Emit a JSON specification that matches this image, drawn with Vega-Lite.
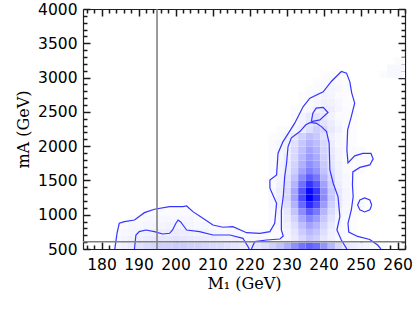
{
  "$schema": "https://vega.github.io/schema/vega-lite/v6.json",
  "width": 322,
  "height": 240,
  "autosize": {"type": "none"},
  "padding": {"left": 83, "top": 9, "right": 11, "bottom": 63},
  "background": "white",
  "config": {"view": {"stroke": null}, "axis": {"grid": false, "zindex": 1, "labelFont": "DejaVu Sans", "labelFontSize": 15.5, "labelColor": "#000000", "domainColor": "#222222", "domainWidth": 1.2, "tickColor": "#1a1a1a", "tickWidth": 1.5, "titleFont": "DejaVu Serif", "titleFontSize": 16, "titleFontWeight": "normal", "titleColor": "#000000", "labelOverlap": false, "labelFlush": false}},
  "datasets": {
    "cells": [
      {"m1":183,"mA":500,"v":4},{"m1":185,"mA":500,"v":6},{"m1":187,"mA":500,"v":8},{"m1":189,"mA":500,"v":12},{"m1":191,"mA":500,"v":14},{"m1":193,"mA":500,"v":16},{"m1":195,"mA":500,"v":18},{"m1":197,"mA":500,"v":18},{"m1":199,"mA":500,"v":20},{"m1":201,"mA":500,"v":20},{"m1":203,"mA":500,"v":18},{"m1":205,"mA":500,"v":18},{"m1":207,"mA":500,"v":16},{"m1":209,"mA":500,"v":15},{"m1":211,"mA":500,"v":14},{"m1":213,"mA":500,"v":12},{"m1":215,"mA":500,"v":10},{"m1":217,"mA":500,"v":8},{"m1":219,"mA":500,"v":8},{"m1":221,"mA":500,"v":10},{"m1":223,"mA":500,"v":13},{"m1":225,"mA":500,"v":18},{"m1":227,"mA":500,"v":24},{"m1":229,"mA":500,"v":32},{"m1":231,"mA":500,"v":44},{"m1":233,"mA":500,"v":55},{"m1":235,"mA":500,"v":62},{"m1":237,"mA":500,"v":56},{"m1":239,"mA":500,"v":42},{"m1":241,"mA":500,"v":28},{"m1":243,"mA":500,"v":16},{"m1":245,"mA":500,"v":10},{"m1":247,"mA":500,"v":7},{"m1":249,"mA":500,"v":5},{"m1":251,"mA":500,"v":4},{"m1":253,"mA":500,"v":3},{"m1":255,"mA":500,"v":2},
      {"m1":183,"mA":600,"v":3},{"m1":185,"mA":600,"v":4},{"m1":187,"mA":600,"v":5},{"m1":189,"mA":600,"v":7},{"m1":191,"mA":600,"v":8},{"m1":193,"mA":600,"v":9},{"m1":195,"mA":600,"v":10},{"m1":197,"mA":600,"v":10},{"m1":199,"mA":600,"v":11},{"m1":201,"mA":600,"v":10},{"m1":203,"mA":600,"v":9},{"m1":205,"mA":600,"v":8},{"m1":207,"mA":600,"v":8},{"m1":209,"mA":600,"v":7},{"m1":211,"mA":600,"v":6},{"m1":213,"mA":600,"v":5},{"m1":215,"mA":600,"v":5},{"m1":217,"mA":600,"v":4},{"m1":219,"mA":600,"v":3},{"m1":221,"mA":600,"v":3},{"m1":223,"mA":600,"v":3},{"m1":225,"mA":600,"v":2},{"m1":227,"mA":600,"v":2},{"m1":229,"mA":600,"v":4},{"m1":231,"mA":600,"v":8},{"m1":233,"mA":600,"v":15},{"m1":235,"mA":600,"v":22},{"m1":237,"mA":600,"v":18},{"m1":239,"mA":600,"v":10},{"m1":241,"mA":600,"v":5},{"m1":243,"mA":600,"v":2},{"m1":245,"mA":600,"v":2},{"m1":247,"mA":600,"v":2},
      {"m1":183,"mA":700,"v":2},{"m1":185,"mA":700,"v":3},{"m1":187,"mA":700,"v":4},{"m1":189,"mA":700,"v":5},{"m1":191,"mA":700,"v":6},{"m1":193,"mA":700,"v":6},{"m1":195,"mA":700,"v":7},{"m1":197,"mA":700,"v":7},{"m1":199,"mA":700,"v":8},{"m1":201,"mA":700,"v":7},{"m1":203,"mA":700,"v":6},{"m1":205,"mA":700,"v":5},{"m1":207,"mA":700,"v":5},{"m1":209,"mA":700,"v":4},{"m1":211,"mA":700,"v":3},{"m1":213,"mA":700,"v":3},{"m1":215,"mA":700,"v":3},{"m1":217,"mA":700,"v":2},{"m1":219,"mA":700,"v":2},{"m1":221,"mA":700,"v":2},{"m1":223,"mA":700,"v":2},{"m1":225,"mA":700,"v":2},{"m1":227,"mA":700,"v":2},{"m1":229,"mA":700,"v":4},{"m1":231,"mA":700,"v":10},{"m1":233,"mA":700,"v":20},{"m1":235,"mA":700,"v":28},{"m1":237,"mA":700,"v":23},{"m1":239,"mA":700,"v":13},{"m1":241,"mA":700,"v":6},{"m1":243,"mA":700,"v":3},{"m1":245,"mA":700,"v":2},{"m1":247,"mA":700,"v":1},
      {"m1":185,"mA":800,"v":2},{"m1":187,"mA":800,"v":3},{"m1":189,"mA":800,"v":3},{"m1":191,"mA":800,"v":4},{"m1":193,"mA":800,"v":4},{"m1":195,"mA":800,"v":4},{"m1":197,"mA":800,"v":5},{"m1":199,"mA":800,"v":5},{"m1":201,"mA":800,"v":5},{"m1":203,"mA":800,"v":4},{"m1":205,"mA":800,"v":3},{"m1":207,"mA":800,"v":3},{"m1":209,"mA":800,"v":2},{"m1":211,"mA":800,"v":2},{"m1":213,"mA":800,"v":2},{"m1":225,"mA":800,"v":2},{"m1":227,"mA":800,"v":3},{"m1":229,"mA":800,"v":6},{"m1":231,"mA":800,"v":13},{"m1":233,"mA":800,"v":25},{"m1":235,"mA":800,"v":36},{"m1":237,"mA":800,"v":30},{"m1":239,"mA":800,"v":17},{"m1":241,"mA":800,"v":8},{"m1":243,"mA":800,"v":3},{"m1":245,"mA":800,"v":2},{"m1":247,"mA":800,"v":1},
      {"m1":187,"mA":900,"v":2},{"m1":189,"mA":900,"v":2},{"m1":191,"mA":900,"v":3},{"m1":193,"mA":900,"v":3},{"m1":195,"mA":900,"v":3},{"m1":197,"mA":900,"v":3},{"m1":199,"mA":900,"v":3},{"m1":201,"mA":900,"v":3},{"m1":203,"mA":900,"v":3},{"m1":205,"mA":900,"v":2},{"m1":225,"mA":900,"v":2},{"m1":227,"mA":900,"v":3},{"m1":229,"mA":900,"v":8},{"m1":231,"mA":900,"v":17},{"m1":233,"mA":900,"v":34},{"m1":235,"mA":900,"v":48},{"m1":237,"mA":900,"v":39},{"m1":239,"mA":900,"v":22},{"m1":241,"mA":900,"v":11},{"m1":243,"mA":900,"v":4},{"m1":245,"mA":900,"v":2},{"m1":247,"mA":900,"v":1},
      {"m1":191,"mA":1000,"v":2},{"m1":193,"mA":1000,"v":2},{"m1":195,"mA":1000,"v":2},{"m1":197,"mA":1000,"v":2},{"m1":199,"mA":1000,"v":2},{"m1":201,"mA":1000,"v":2},{"m1":203,"mA":1000,"v":2},{"m1":225,"mA":1000,"v":2},{"m1":227,"mA":1000,"v":4},{"m1":229,"mA":1000,"v":10},{"m1":231,"mA":1000,"v":23},{"m1":233,"mA":1000,"v":45},{"m1":235,"mA":1000,"v":64},{"m1":237,"mA":1000,"v":52},{"m1":239,"mA":1000,"v":29},{"m1":241,"mA":1000,"v":14},{"m1":243,"mA":1000,"v":6},{"m1":245,"mA":1000,"v":3},{"m1":247,"mA":1000,"v":1},
      {"m1":225,"mA":1100,"v":3},{"m1":227,"mA":1100,"v":6},{"m1":229,"mA":1100,"v":13},{"m1":231,"mA":1100,"v":30},{"m1":233,"mA":1100,"v":59},{"m1":235,"mA":1100,"v":84},{"m1":237,"mA":1100,"v":69},{"m1":239,"mA":1100,"v":39},{"m1":241,"mA":1100,"v":18},{"m1":243,"mA":1100,"v":8},{"m1":245,"mA":1100,"v":3},{"m1":247,"mA":1100,"v":2},{"m1":249,"mA":1100,"v":3},
      {"m1":225,"mA":1200,"v":3},{"m1":227,"mA":1200,"v":7},{"m1":229,"mA":1200,"v":16},{"m1":231,"mA":1200,"v":36},{"m1":233,"mA":1200,"v":70},{"m1":235,"mA":1200,"v":100},{"m1":237,"mA":1200,"v":82},{"m1":239,"mA":1200,"v":46},{"m1":241,"mA":1200,"v":22},{"m1":243,"mA":1200,"v":9},{"m1":245,"mA":1200,"v":4},{"m1":247,"mA":1200,"v":2},
      {"m1":225,"mA":1300,"v":3},{"m1":227,"mA":1300,"v":7},{"m1":229,"mA":1300,"v":15},{"m1":231,"mA":1300,"v":35},{"m1":233,"mA":1300,"v":67},{"m1":235,"mA":1300,"v":96},{"m1":237,"mA":1300,"v":79},{"m1":239,"mA":1300,"v":44},{"m1":241,"mA":1300,"v":21},{"m1":243,"mA":1300,"v":9},{"m1":245,"mA":1300,"v":4},{"m1":247,"mA":1300,"v":2},
      {"m1":225,"mA":1400,"v":2},{"m1":227,"mA":1400,"v":6},{"m1":229,"mA":1400,"v":13},{"m1":231,"mA":1400,"v":29},{"m1":233,"mA":1400,"v":56},{"m1":235,"mA":1400,"v":80},{"m1":237,"mA":1400,"v":66},{"m1":239,"mA":1400,"v":37},{"m1":241,"mA":1400,"v":18},{"m1":243,"mA":1400,"v":7},{"m1":245,"mA":1400,"v":3},{"m1":247,"mA":1400,"v":2},
      {"m1":225,"mA":1500,"v":2},{"m1":227,"mA":1500,"v":5},{"m1":229,"mA":1500,"v":11},{"m1":231,"mA":1500,"v":24},{"m1":233,"mA":1500,"v":46},{"m1":235,"mA":1500,"v":64},{"m1":237,"mA":1500,"v":53},{"m1":239,"mA":1500,"v":30},{"m1":241,"mA":1500,"v":15},{"m1":243,"mA":1500,"v":6},{"m1":245,"mA":1500,"v":3},{"m1":247,"mA":1500,"v":2},
      {"m1":225,"mA":1600,"v":2},{"m1":227,"mA":1600,"v":4},{"m1":229,"mA":1600,"v":9},{"m1":231,"mA":1600,"v":19},{"m1":233,"mA":1600,"v":36},{"m1":235,"mA":1600,"v":50},{"m1":237,"mA":1600,"v":42},{"m1":239,"mA":1600,"v":24},{"m1":241,"mA":1600,"v":12},{"m1":243,"mA":1600,"v":5},{"m1":245,"mA":1600,"v":2},{"m1":247,"mA":1600,"v":2},{"m1":249,"mA":1600,"v":2},
      {"m1":225,"mA":1700,"v":2},{"m1":227,"mA":1700,"v":4},{"m1":229,"mA":1700,"v":8},{"m1":231,"mA":1700,"v":17},{"m1":233,"mA":1700,"v":31},{"m1":235,"mA":1700,"v":44},{"m1":237,"mA":1700,"v":37},{"m1":239,"mA":1700,"v":21},{"m1":241,"mA":1700,"v":10},{"m1":243,"mA":1700,"v":5},{"m1":245,"mA":1700,"v":2},{"m1":247,"mA":1700,"v":2},{"m1":249,"mA":1700,"v":2},{"m1":251,"mA":1700,"v":2},
      {"m1":225,"mA":1800,"v":2},{"m1":227,"mA":1800,"v":3},{"m1":229,"mA":1800,"v":7},{"m1":231,"mA":1800,"v":15},{"m1":233,"mA":1800,"v":28},{"m1":235,"mA":1800,"v":40},{"m1":237,"mA":1800,"v":33},{"m1":239,"mA":1800,"v":19},{"m1":241,"mA":1800,"v":10},{"m1":243,"mA":1800,"v":4},{"m1":245,"mA":1800,"v":2},{"m1":247,"mA":1800,"v":2},{"m1":249,"mA":1800,"v":2},{"m1":251,"mA":1800,"v":2},
      {"m1":225,"mA":1900,"v":2},{"m1":227,"mA":1900,"v":3},{"m1":229,"mA":1900,"v":6},{"m1":231,"mA":1900,"v":14},{"m1":233,"mA":1900,"v":25},{"m1":235,"mA":1900,"v":36},{"m1":237,"mA":1900,"v":30},{"m1":239,"mA":1900,"v":17},{"m1":241,"mA":1900,"v":9},{"m1":243,"mA":1900,"v":4},{"m1":245,"mA":1900,"v":2},{"m1":247,"mA":1900,"v":2},{"m1":249,"mA":1900,"v":2},
      {"m1":225,"mA":2000,"v":2},{"m1":227,"mA":2000,"v":3},{"m1":229,"mA":2000,"v":5},{"m1":231,"mA":2000,"v":12},{"m1":233,"mA":2000,"v":22},{"m1":235,"mA":2000,"v":31},{"m1":237,"mA":2000,"v":26},{"m1":239,"mA":2000,"v":15},{"m1":241,"mA":2000,"v":7},{"m1":243,"mA":2000,"v":3},{"m1":245,"mA":2000,"v":2},{"m1":247,"mA":2000,"v":1},
      {"m1":225,"mA":2100,"v":1},{"m1":227,"mA":2100,"v":2},{"m1":229,"mA":2100,"v":4},{"m1":231,"mA":2100,"v":9},{"m1":233,"mA":2100,"v":18},{"m1":235,"mA":2100,"v":25},{"m1":237,"mA":2100,"v":21},{"m1":239,"mA":2100,"v":12},{"m1":241,"mA":2100,"v":6},{"m1":243,"mA":2100,"v":3},{"m1":245,"mA":2100,"v":2},{"m1":247,"mA":2100,"v":1},
      {"m1":227,"mA":2200,"v":1},{"m1":229,"mA":2200,"v":2},{"m1":231,"mA":2200,"v":4},{"m1":233,"mA":2200,"v":7},{"m1":235,"mA":2200,"v":13},{"m1":237,"mA":2200,"v":19},{"m1":239,"mA":2200,"v":16},{"m1":241,"mA":2200,"v":9},{"m1":243,"mA":2200,"v":5},{"m1":245,"mA":2200,"v":2},{"m1":247,"mA":2200,"v":1},
      {"m1":231,"mA":2300,"v":2},{"m1":233,"mA":2300,"v":5},{"m1":235,"mA":2300,"v":10},{"m1":237,"mA":2300,"v":14},{"m1":239,"mA":2300,"v":11},{"m1":241,"mA":2300,"v":7},{"m1":243,"mA":2300,"v":3},{"m1":245,"mA":2300,"v":2},{"m1":247,"mA":2300,"v":1},
      {"m1":231,"mA":2400,"v":2},{"m1":233,"mA":2400,"v":4},{"m1":235,"mA":2400,"v":8},{"m1":237,"mA":2400,"v":11},{"m1":239,"mA":2400,"v":9},{"m1":241,"mA":2400,"v":5},{"m1":243,"mA":2400,"v":2},{"m1":245,"mA":2400,"v":2},{"m1":247,"mA":2400,"v":1},
      {"m1":231,"mA":2500,"v":1},{"m1":233,"mA":2500,"v":1},{"m1":235,"mA":2500,"v":3},{"m1":237,"mA":2500,"v":6},{"m1":239,"mA":2500,"v":8},{"m1":241,"mA":2500,"v":7},{"m1":243,"mA":2500,"v":4},{"m1":245,"mA":2500,"v":2},{"m1":247,"mA":2500,"v":1},
      {"m1":233,"mA":2600,"v":1},{"m1":235,"mA":2600,"v":2},{"m1":237,"mA":2600,"v":4},{"m1":239,"mA":2600,"v":6},{"m1":241,"mA":2600,"v":5},{"m1":243,"mA":2600,"v":3},{"m1":245,"mA":2600,"v":1},{"m1":247,"mA":2600,"v":1},
      {"m1":233,"mA":2700,"v":1},{"m1":235,"mA":2700,"v":2},{"m1":237,"mA":2700,"v":4},{"m1":239,"mA":2700,"v":5},{"m1":241,"mA":2700,"v":4},{"m1":243,"mA":2700,"v":2},{"m1":245,"mA":2700,"v":1},
      {"m1":235,"mA":2800,"v":1},{"m1":237,"mA":2800,"v":2},{"m1":239,"mA":2800,"v":3},{"m1":241,"mA":2800,"v":4},{"m1":243,"mA":2800,"v":3},{"m1":245,"mA":2800,"v":2},
      {"m1":237,"mA":2900,"v":1},{"m1":239,"mA":2900,"v":2},{"m1":241,"mA":2900,"v":3},{"m1":243,"mA":2900,"v":2},{"m1":245,"mA":2900,"v":1},
      {"m1":239,"mA":3000,"v":1},{"m1":241,"mA":3000,"v":2},{"m1":243,"mA":3000,"v":2},{"m1":245,"mA":3000,"v":1},
      {"m1":255,"mA":3000,"v":2},{"m1":257,"mA":3000,"v":3},{"m1":259,"mA":3000,"v":3},{"m1":261,"mA":3000,"v":2},
      {"m1":257,"mA":3100,"v":3},{"m1":259,"mA":3100,"v":3},{"m1":261,"mA":3100,"v":3},
      {"m1":259,"mA":3200,"v":2},{"m1":261,"mA":3200,"v":2}
    ],
    "contours": [
      {"path":"outer","i":1,"m1":183.6,"mA":500},{"path":"outer","i":2,"m1":184.2,"mA":730},{"path":"outer","i":3,"m1":184.8,"mA":875},{"path":"outer","i":4,"m1":186.2,"mA":898},{"path":"outer","i":5,"m1":188.9,"mA":923},{"path":"outer","i":6,"m1":191.6,"mA":1030},{"path":"outer","i":7,"m1":194.3,"mA":1080},{"path":"outer","i":8,"m1":198.4,"mA":1118},{"path":"outer","i":9,"m1":202.0,"mA":1118},{"path":"outer","i":10,"m1":203.0,"mA":1128},{"path":"outer","i":11,"m1":204.7,"mA":1045},{"path":"outer","i":12,"m1":207.4,"mA":948},{"path":"outer","i":13,"m1":210.1,"mA":850},{"path":"outer","i":14,"m1":212.8,"mA":817},{"path":"outer","i":15,"m1":215.5,"mA":826},{"path":"outer","i":16,"m1":219.2,"mA":738},{"path":"outer","i":17,"m1":222.8,"mA":729},{"path":"outer","i":18,"m1":225.5,"mA":753},{"path":"outer","i":19,"m1":226.8,"mA":875},{"path":"outer","i":20,"m1":227.3,"mA":1167},{"path":"outer","i":21,"m1":225.5,"mA":1386},{"path":"outer","i":22,"m1":225.5,"mA":1507},{"path":"outer","i":23,"m1":227.3,"mA":1580},{"path":"outer","i":24,"m1":227.7,"mA":1897},{"path":"outer","i":25,"m1":229.0,"mA":2062},{"path":"outer","i":26,"m1":230.9,"mA":2223},{"path":"outer","i":27,"m1":232.2,"mA":2335},{"path":"outer","i":28,"m1":234.5,"mA":2578},{"path":"outer","i":29,"m1":236.3,"mA":2700},{"path":"outer","i":30,"m1":239.9,"mA":2792},{"path":"outer","i":31,"m1":242.1,"mA":2943},{"path":"outer","i":32,"m1":244.8,"mA":3089},{"path":"outer","i":33,"m1":246.2,"mA":3065},{"path":"outer","i":34,"m1":247.1,"mA":2938},{"path":"outer","i":35,"m1":247.6,"mA":2778},{"path":"outer","i":36,"m1":248.4,"mA":2627},{"path":"outer","i":37,"m1":247.4,"mA":2413},{"path":"outer","i":38,"m1":246.5,"mA":2237},{"path":"outer","i":39,"m1":246.3,"mA":1945},{"path":"outer","i":40,"m1":246.6,"mA":1756},{"path":"outer","i":41,"m1":248.4,"mA":1858},{"path":"outer","i":42,"m1":250.6,"mA":1894},{"path":"outer","i":43,"m1":252.8,"mA":1894},{"path":"outer","i":44,"m1":253.4,"mA":1814},{"path":"outer","i":45,"m1":252.5,"mA":1726},{"path":"outer","i":46,"m1":249.8,"mA":1690},{"path":"outer","i":47,"m1":247.9,"mA":1624},{"path":"outer","i":48,"m1":247.8,"mA":1434},{"path":"outer","i":49,"m1":248.0,"mA":1263},{"path":"outer","i":50,"m1":247.5,"mA":1069},{"path":"outer","i":51,"m1":246.6,"mA":875},{"path":"outer","i":52,"m1":246.8,"mA":748},{"path":"outer","i":53,"m1":249.2,"mA":683},{"path":"outer","i":54,"m1":252.5,"mA":639},{"path":"outer","i":55,"m1":254.6,"mA":558},{"path":"outer","i":56,"m1":255.5,"mA":500},
      {"path":"lower","i":1,"m1":188.9,"mA":500},{"path":"lower","i":2,"m1":189.3,"mA":704},{"path":"lower","i":3,"m1":190.2,"mA":753},{"path":"lower","i":4,"m1":192.0,"mA":777},{"path":"lower","i":5,"m1":194.3,"mA":753},{"path":"lower","i":6,"m1":196.5,"mA":719},{"path":"lower","i":7,"m1":198.4,"mA":729},{"path":"lower","i":8,"m1":199.2,"mA":777},{"path":"lower","i":9,"m1":200.1,"mA":875},{"path":"lower","i":10,"m1":200.7,"mA":923},{"path":"lower","i":11,"m1":201.4,"mA":894},{"path":"lower","i":12,"m1":202.0,"mA":850},{"path":"lower","i":13,"m1":203.0,"mA":777},{"path":"lower","i":14,"m1":206.5,"mA":753},{"path":"lower","i":15,"m1":210.1,"mA":704},{"path":"lower","i":16,"m1":214.7,"mA":704},{"path":"lower","i":17,"m1":218.2,"mA":656},{"path":"lower","i":18,"m1":219.6,"mA":534},{"path":"lower","i":19,"m1":219.9,"mA":500},
      {"path":"inner","i":1,"m1":220.5,"mA":500},{"path":"inner","i":2,"m1":221.4,"mA":607},{"path":"inner","i":3,"m1":224.6,"mA":631},{"path":"inner","i":4,"m1":228.2,"mA":646},{"path":"inner","i":5,"m1":229.1,"mA":690},{"path":"inner","i":6,"m1":228.6,"mA":777},{"path":"inner","i":7,"m1":228.6,"mA":1069},{"path":"inner","i":8,"m1":229.1,"mA":1263},{"path":"inner","i":9,"m1":229.5,"mA":1556},{"path":"inner","i":10,"m1":230.0,"mA":1751},{"path":"inner","i":11,"m1":230.4,"mA":1994},{"path":"inner","i":12,"m1":231.3,"mA":2121},{"path":"inner","i":13,"m1":233.6,"mA":2213},{"path":"inner","i":14,"m1":235.2,"mA":2311},{"path":"inner","i":15,"m1":236.5,"mA":2347},{"path":"inner","i":16,"m1":238.1,"mA":2332},{"path":"inner","i":17,"m1":239.5,"mA":2281},{"path":"inner","i":18,"m1":240.8,"mA":2213},{"path":"inner","i":19,"m1":241.5,"mA":2043},{"path":"inner","i":20,"m1":241.7,"mA":1653},{"path":"inner","i":21,"m1":242.6,"mA":1459},{"path":"inner","i":22,"m1":243.9,"mA":1264},{"path":"inner","i":23,"m1":244.4,"mA":972},{"path":"inner","i":24,"m1":243.6,"mA":777},{"path":"inner","i":25,"m1":244.8,"mA":631},{"path":"inner","i":26,"m1":246.3,"mA":500}
    ],
    "loops": [
      {"path":"loop","i":1,"m1":236.7,"mA":2358},{"path":"loop","i":2,"m1":237.1,"mA":2481},{"path":"loop","i":3,"m1":238.0,"mA":2554},{"path":"loop","i":4,"m1":239.9,"mA":2566},{"path":"loop","i":5,"m1":241.2,"mA":2490},{"path":"loop","i":6,"m1":239.0,"mA":2383},{"path":"loop","i":7,"m1":236.7,"mA":2358},
      {"path":"island","i":1,"m1":253.0,"mA":1142},{"path":"island","i":2,"m1":252.5,"mA":1215},{"path":"island","i":3,"m1":251.1,"mA":1245},{"path":"island","i":4,"m1":249.8,"mA":1215},{"path":"island","i":5,"m1":249.2,"mA":1142},{"path":"island","i":6,"m1":249.8,"mA":1070},{"path":"island","i":7,"m1":251.1,"mA":1040},{"path":"island","i":8,"m1":252.5,"mA":1070},{"path":"island","i":9,"m1":253.0,"mA":1142}
    ]
  },
  "layer": [
    {
      "data": {"name": "cells"},
      "mark": {"type": "rect", "clip": true, "binSpacing": 0},
      "encoding": {
        "x": {"field": "m1", "type": "quantitative", "bin": {"binned": true, "step": 2}, "scale": {"domain": [175, 262], "nice": false, "zero": false},
          "axis": {"orient": "bottom", "values": [180,190,200,210,220,230,240,250,260], "tickSize": -7, "labelPadding": 15, "domain": true, "title": "M₁  (GeV)", "titlePadding": 3, "format": "d"}},
        "y": {"field": "mA", "type": "quantitative", "bin": {"binned": true, "step": 100}, "scale": {"domain": [500, 4000], "nice": false, "zero": false},
          "axis": {"orient": "left", "values": [500,1000,1500,2000,2500,3000,3500,4000], "tickSize": -7, "labelPadding": 13, "domain": true, "title": "mA  (GeV)", "titlePadding": 6, "format": "d"}},
        "color": {"field": "v", "type": "quantitative", "scale": {"domain": [0, 100], "range": ["#ffffff", "#0000ff"], "interpolate": "rgb"}, "legend": null}
      }
    },
    {
      "data": {"name": "contours"},
      "mark": {"type": "line", "clip": true, "color": "#3535ff", "strokeWidth": 1.2},
      "encoding": {
        "x": {"field": "m1", "type": "quantitative", "scale": {"domain": [175, 262], "nice": false, "zero": false},
          "axis": {"orient": "bottom", "values": [176,178,182,184,186,188,192,194,196,198,202,204,206,208,212,214,216,218,222,224,226,228,232,234,236,238,242,244,246,248,252,254,256,258,262], "tickSize": -4, "labels": false, "domain": false, "title": null}},
        "y": {"field": "mA", "type": "quantitative", "scale": {"domain": [500, 4000], "nice": false, "zero": false},
          "axis": {"orient": "left", "values": [600,700,800,900,1100,1200,1300,1400,1600,1700,1800,1900,2100,2200,2300,2400,2600,2700,2800,2900,3100,3200,3300,3400,3600,3700,3800,3900], "tickSize": -4, "labels": false, "domain": false, "title": null}},
        "detail": {"field": "path"},
        "order": {"field": "i", "type": "quantitative"}
      }
    },
    {
      "data": {"name": "loops"},
      "mark": {"type": "line", "clip": true, "color": "#3535ff", "strokeWidth": 1.2},
      "encoding": {
        "x": {"field": "m1", "type": "quantitative", "scale": {"domain": [175, 262], "nice": false, "zero": false},
          "axis": {"orient": "top", "values": [180,190,200,210,220,230,240,250,260], "tickSize": -7, "labels": false, "domain": true, "title": null}},
        "y": {"field": "mA", "type": "quantitative", "scale": {"domain": [500, 4000], "nice": false, "zero": false},
          "axis": {"orient": "right", "values": [500,1000,1500,2000,2500,3000,3500,4000], "tickSize": -7, "labels": false, "domain": true, "title": null}},
        "detail": {"field": "path"},
        "order": {"field": "i", "type": "quantitative"}
      }
    },
    {
      "data": {"values": [{"m1": 195}]},
      "mark": {"type": "rule", "color": "#808080", "strokeWidth": 1.6},
      "encoding": {
        "x": {"field": "m1", "type": "quantitative", "scale": {"domain": [175, 262], "nice": false, "zero": false},
          "axis": {"orient": "top", "values": [176,178,182,184,186,188,192,194,196,198,202,204,206,208,212,214,216,218,222,224,226,228,232,234,236,238,242,244,246,248,252,254,256,258,262], "tickSize": -4, "labels": false, "domain": false, "title": null}}
      }
    },
    {
      "data": {"values": [{"mA": 605}]},
      "mark": {"type": "rule", "color": "#808080", "strokeWidth": 1.6},
      "encoding": {
        "y": {"field": "mA", "type": "quantitative", "scale": {"domain": [500, 4000], "nice": false, "zero": false},
          "axis": {"orient": "right", "values": [600,700,800,900,1100,1200,1300,1400,1600,1700,1800,1900,2100,2200,2300,2400,2600,2700,2800,2900,3100,3200,3300,3400,3600,3700,3800,3900], "tickSize": -4, "labels": false, "domain": false, "title": null}}
      }
    }
  ],
  "resolve": {"axis": {"x": "independent", "y": "independent"}}
}
